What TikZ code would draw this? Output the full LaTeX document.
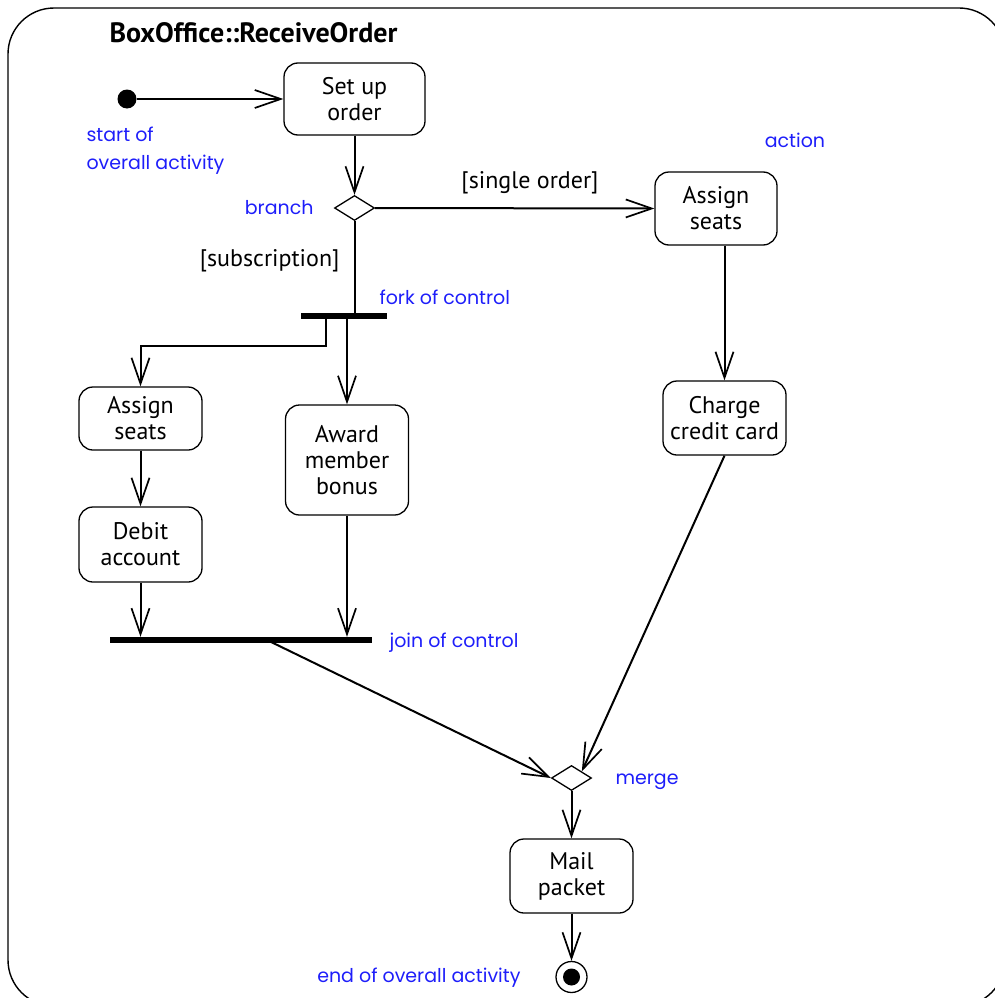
\documentclass[tikz,border=0pt]{standalone}
\usepackage{fontspec}
\setmainfont{PT Sans}
\newfontfamily\notefamily{Poppins}
\usetikzlibrary{arrows.meta,shapes.geometric}
\definecolor{noteblue}{RGB}{30,30,250}
\newcommand{\boxfont}{\fontsize{24}{26}\selectfont}
\newcommand{\notefont}{\notefamily\fontsize{19}{28}\selectfont}
\begin{document}
\begin{tikzpicture}[x=1pt,y=-1pt,
  action/.style={draw, line width=1.3pt, rounded corners=14pt, align=center,
    font=\boxfont, inner sep=0pt},
  flow/.style={line width=2pt, -{Straight Barb[length=26pt,width=18pt,line width=1.7pt]}},
  plain/.style={line width=2pt},
  decision/.style={draw, diamond, line width=1.3pt, aspect=1.6, inner sep=0pt,
    minimum width=40pt, minimum height=25pt, fill=white},
  bar/.style={fill=black, inner sep=0pt, minimum height=6pt},
  note/.style={text=noteblue, font=\notefont, align=left},
  guard/.style={font=\boxfont},
]
\useasboundingbox (0,0) rectangle (995,998);
% activity frame
\draw[line width=1.4pt, rounded corners=46pt] (8,8) rectangle (1005,1006);
\node[font=\bfseries\fontsize{28}{30}\selectfont, anchor=west] (title) at (106,33) {BoxOffice::ReceiveOrder};

% initial and final nodes
\node[circle, fill=black, inner sep=0pt, minimum size=19pt] (start) at (127,99) {};
\node[circle, draw, line width=1.3pt, fill=white, inner sep=0pt, minimum size=31pt] (final) at (571.5,977) {};
\fill (final.center) circle (8.5);

% actions
\node[action, minimum width=141pt, minimum height=72pt] (setup) at (354.5,99) {Set up\\order};
\node[action, minimum width=122pt, minimum height=73pt] (assignR) at (716,208.5) {Assign\\seats};
\node[action, minimum width=123pt, minimum height=63pt] (assignL) at (140.5,418.5) {Assign\\seats};
\node[action, minimum width=123pt, minimum height=75pt] (debit) at (140.5,544.5) {Debit\\account};
\node[action, minimum width=123pt, minimum height=110pt] (award) at (347,460) {Award\\member\\bonus};
\node[action, minimum width=123pt, minimum height=74pt] (charge) at (724.5,418) {Charge\\credit card};
\node[action, minimum width=123pt, minimum height=74pt] (mail) at (571.5,876) {Mail\\packet};

% decisions, fork and join
\node[decision] (branch) at (354.5,208) {};
\node[decision] (merge) at (571.5,778) {};
\node[bar, minimum width=86pt] (fork) at (344,316) {};
\node[bar, minimum width=262pt] (join) at (241,640) {};
\coordinate (forkA) at (326,316);
\coordinate (forkB) at (347,316);
\coordinate (joinOut) at (267,640);

% flows
\draw[flow] (start) -- (setup.west);
\draw[flow] (setup.south) -- (branch.north);
\draw[flow] (branch.east) -- (assignR.west);
\draw[plain] (branch.south) -- (branch.south |- fork.north);
\draw[flow] (forkA) -- ++(0,30) -| (assignL.north);
\draw[flow] (forkB) -- (forkB |- award.north);
\draw[flow] (assignL) -- (debit);
\draw[flow] (debit.south) -- (debit.south |- join.north);
\draw[flow] (award.south) -- (award.south |- join.north);
\draw[flow] (joinOut) -- (merge.west);
\draw[flow] (assignR.south -| charge.north) -- (charge.north);
\draw[flow] (charge.south) -- (merge.north east);
\draw[flow] (merge.south) -- (mail.north);
\draw[flow] (mail.south) -- (final.north);

% guards
\node[guard] (gsingle) at (530,183) {[single order]};
\node[guard, anchor=east] (gsub) at (343,261) {[subscription]};

% annotations
\node[note, anchor=west] (nstart) at (83,151) {start of\\overall activity};
\node[note, anchor=east] (nbranch) at (317,208) {branch};
\node[note] (naction) at (795,140) {action};
\node[note, anchor=west] (nfork) at (376,297) {fork of control};
\node[note, anchor=west] (njoin) at (386,643) {join of control};
\node[note, anchor=west] (nmerge) at (612,782) {merge};
\node[note, anchor=east] (nend) at (524,978) {end of overall activity};
\end{tikzpicture}
\end{document}
